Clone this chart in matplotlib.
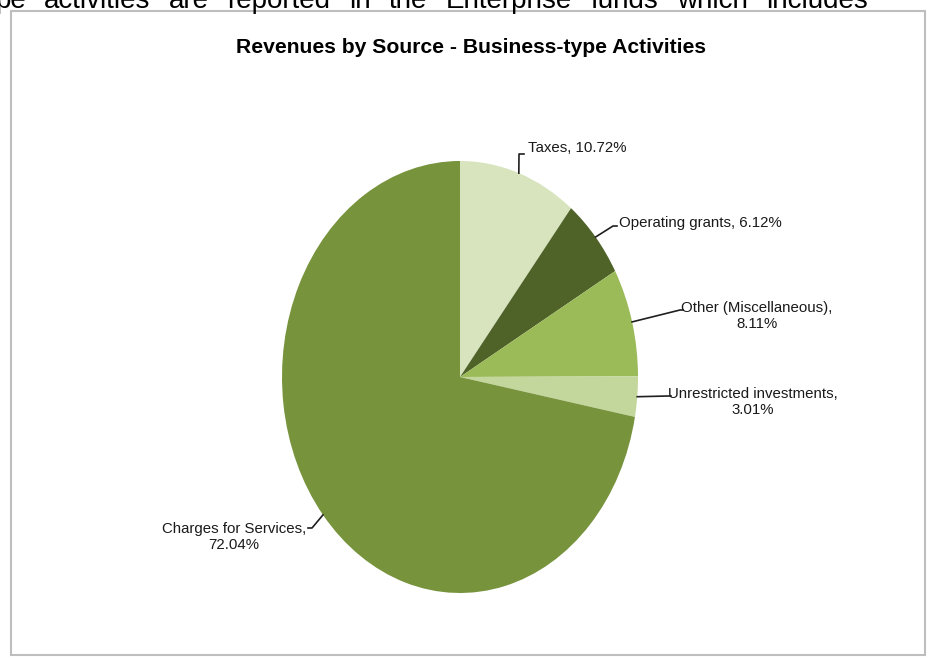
import numpy as np
import matplotlib
matplotlib.use("Agg")
import matplotlib.pyplot as plt
from matplotlib.patches import Rectangle

plt.rcParams['font.family'] = ['Liberation Sans', 'DejaVu Sans']

W, H = 931, 658

# chart data
sources = ['Taxes', 'Operating grants', 'Other (Miscellaneous)',
           'Unrestricted investments', 'Charges for Services']
shares = [10.72, 6.12, 8.11, 3.01, 72.04]
colors = ['#D7E4BD', '#4F6228', '#9BBB59', '#C3D69B', '#77933C']
label_texts = ['Taxes, 10.72%', 'Operating grants, 6.12%',
               'Other (Miscellaneous),\n8.11%',
               'Unrestricted investments,\n3.01%',
               'Charges for Services,\n72.04%']
title = 'Revenues by Source - Business-type Activities'
top_line = 'pe activities are reported in the Enterprise funds which includes'


def fx(px):
    return px / W


def fy(py):
    return 1 - py / H


fig = plt.figure(figsize=(W / 100, H / 100), dpi=100)
fig.patch.set_facecolor('white')

# cut-off line of the scanned page above the chart box
renderer = fig.canvas.get_renderer()
words = top_line.split()
txts = [fig.text(0, fy(8), w, fontsize=20, color='black', va='baseline')
        for w in words]
widths = [t.get_window_extent(renderer).width for t in txts]
x0, x1 = -5, 868
gap = (x1 - x0 - sum(widths)) / (len(words) - 1)
x = x0
for t, w in zip(txts, widths):
    t.set_x(fx(x))
    x += w + gap

# chart frame
fig.patches.append(Rectangle((fx(11), fy(655)), fx(925 - 11), (655 - 11) / H,
                             transform=fig.transFigure, fill=False,
                             edgecolor='#BEBEBE', linewidth=1.5))

fig.text(fx(471), fy(53), title, fontsize=15.2, fontweight='bold',
         ha='center', va='baseline', color='black')

# pie drawn as an ellipse (the original is stretched vertically)
cx, cy, rx, ry = 460, 377, 178, 216
ax = fig.add_axes([fx(cx - rx), fy(cy + ry), 2 * rx / W, 2 * ry / H])
wedges, _ = ax.pie(shares, colors=colors, startangle=90, counterclock=False,
                   wedgeprops=dict(linewidth=0))
ax.set_aspect('auto')
ax.set_xlim(-1, 1)
ax.set_ylim(-1, 1)
ax.axis('off')


def to_data(px, py):
    return (px - cx) / rx, (cy - py) / ry


# leader elbow points and label anchors (pixels)
leaders = [
    [(519, 154), (524, 154)],
    [(613, 226), (617, 226)],
    [(680, 310), (683, 310)],
    [(668, 396), (671, 396)],
    [(312, 528), (308, 528)],
]
anchors = [(528, 148, 'left'), (619, 223, 'left'), (757, 316, 'center'),
           (753, 402, 'center'), (234, 537, 'center')]

for w, pts, (lx, ly, ha), txt in zip(wedges, leaders, anchors, label_texts):
    mid = np.deg2rad((w.theta1 + w.theta2) / 2)
    xs = [np.cos(mid)]
    ys = [np.sin(mid)]
    for px, py in pts:
        dx, dy = to_data(px, py)
        xs.append(dx)
        ys.append(dy)
    ax.plot(xs, ys, color='#1f1f1f', linewidth=1.2, clip_on=False)
    tx, ty = to_data(lx, ly)
    ax.text(tx, ty, txt, fontsize=10.8, ha=ha, va='center',
            multialignment='center', color='#1a1a1a', linespacing=1.15)

fig.savefig('out.png', dpi=100)
